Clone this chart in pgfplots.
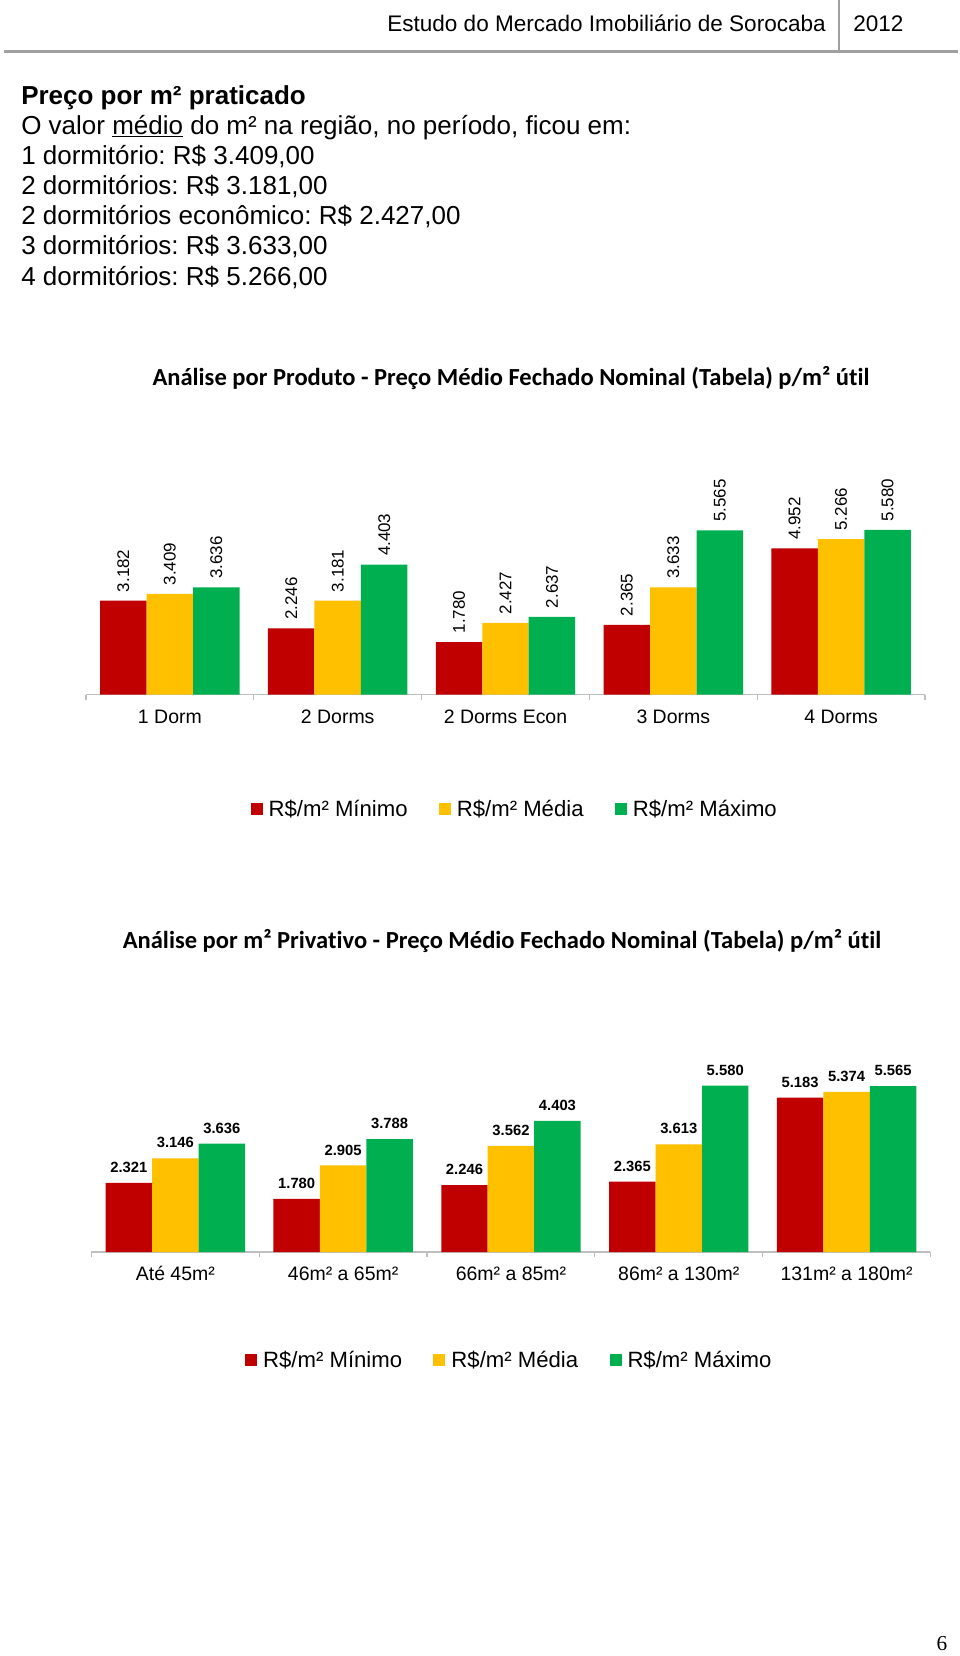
\documentclass[border=0pt]{standalone}
\usepackage{fontspec}
\setmainfont{Liberation Sans}
\newfontfamily\calibri[Ligatures=CommonOff]{Carlito}
\newfontfamily\timesf{Liberation Serif}
\usepackage{pgfplots}
\pgfplotsset{compat=1.18}
\definecolor{cRed}{HTML}{C00000}
\definecolor{cYel}{HTML}{FFC000}
\definecolor{cGrn}{HTML}{00B050}
\definecolor{axgray}{HTML}{BFBFBF}
\definecolor{hdrgray}{HTML}{A0A0A0}
\newcommand{\fs}[1]{\fontsize{#1pt}{#1pt}\selectfont}
\frenchspacing

\pgfplotstableread{
x  mn    md    mx
0  3182  3409  3636
1  2246  3181  4403
2  1780  2427  2637
3  2365  3633  5565
4  4952  5266  5580
}\produto
\pgfplotstableread{
x  mn    md    mx
0  2321  3146  3636
1  1780  2905  3788
2  2246  3562  4403
3  2365  3613  5580
4  5183  5374  5565
}\privativo

\pgfplotsset{
  chartbase/.style={
    scale only axis, width=629.25pt,
    ybar=0pt, bar width=0.277,
    ymin=0, ymax=8000,
    xmin=-0.5, xmax=4.5,
    axis x line*=bottom, axis y line=none,
    axis line style={draw=axgray, line width=0.9pt},
    xtick={0,1,2,3,4},
    major tick length=0pt,
    extra x ticks={-0.5,0.5,1.5,2.5,3.5,4.5},
    extra x tick labels={},
    extra x tick style={major tick length=4pt, tick align=outside, tick style={draw=axgray, line width=0.9pt}},
    xticklabel style={font=\fs{14.6}, anchor=base, yshift=-21.4pt},
    clip=false,
    /pgf/number format/assume math mode=true,
    /pgf/number format/1000 sep={.},
    nodes near coords,
    legend style={draw=none, fill=none, legend columns=3, font=\fs{16.6}, anchor=center,
      nodes={inner sep=1.5pt},
      /tikz/every odd column/.append style={column sep=3pt},
      /tikz/every even column/.append style={column sep=22pt}},
  },
  redsq/.style={fill=cRed, draw=none, bar shift=-0.277,
    legend image code/.code={\fill[cRed] (0pt,-4.5pt) rectangle (9pt,4.5pt);}},
  yelsq/.style={fill=cYel, draw=none, bar shift=0,
    legend image code/.code={\fill[cYel] (0pt,-4.5pt) rectangle (9pt,4.5pt);}},
  grnsq/.style={fill=cGrn, draw=none, bar shift=0.277,
    legend image code/.code={\fill[cGrn] (0pt,-4.5pt) rectangle (9pt,4.5pt);}},
}

\begin{document}
\begin{tikzpicture}
\begin{scope}[x=0.75pt,y=-0.75pt]
\useasboundingbox (0,0) rectangle (960,1656);
\fill[white] (0,0) rectangle (960,1656);
% header
\draw[hdrgray, line width=2.4pt] (4,51.5) -- (958,51.5);
\draw[hdrgray, line width=1.5pt] (839,0) -- (839,51.5);
\node[anchor=base east, inner sep=0, font=\fs{16.9}] at (826,31.2) {Estudo do Mercado Imobiliário de Sorocaba};
\node[anchor=base west, inner sep=0, font=\fs{16.9}] at (853,31.2) {2012};
% body text
\node[anchor=base west, inner sep=0, font=\bfseries\fs{19.5}] at (21,104.5) {Preço por m² praticado};
\node[anchor=base west, inner sep=0, font=\fs{19.5}] at (21,134) {O valor \underline{médio} do m² na região, no período, ficou em:};
\node[anchor=base west, inner sep=0, font=\fs{19.5}] at (21,164) {1 dormitório: R\$ 3.409,00};
\node[anchor=base west, inner sep=0, font=\fs{19.5}] at (21,194) {2 dormitórios: R\$ 3.181,00};
\node[anchor=base west, inner sep=0, font=\fs{19.5}] at (21,224) {2 dormitórios econômico: R\$ 2.427,00};
\node[anchor=base west, inner sep=0, font=\fs{19.5}] at (21,254.5) {3 dormitórios: R\$ 3.633,00};
\node[anchor=base west, inner sep=0, font=\fs{19.5}] at (21,285) {4 dormitórios: R\$ 5.266,00};
% chart titles
\node[anchor=base, inner sep=0, font=\calibri\bfseries\fs{18.4}] at (511,385.5) {Análise por Produto - Preço Médio Fechado Nominal (Tabela) p/m² útil};
\node[anchor=base, inner sep=0, font=\calibri\bfseries\fs{18.4}] at (502,948.5) {Análise por m² Privativo - Preço Médio Fechado Nominal (Tabela) p/m² útil};
% page number
\node[anchor=base, inner sep=0, font=\timesf\fs{16}] at (942,1650) {6};
\end{scope}

% Chart 1
\begin{axis}[chartbase, at={(64.5pt,-520.9pt)}, anchor=south west, height=177pt,
  xticklabels={1 Dorm, 2 Dorms, 2 Dorms Econ, 3 Dorms, 4 Dorms},
  every node near coord/.append style={rotate=90, anchor=west, inner xsep=6.3pt, font=\fs{12.7}, text=black},
  legend style={at={(0.511,-0.485)}},
]
\addplot[redsq] table[x=x,y=mn] {\produto};
\addplot[yelsq] table[x=x,y=md] {\produto};
\addplot[grnsq] table[x=x,y=mx] {\produto};
\addlegendentry{R\$/m² Mínimo}
\addlegendentry{R\$/m² Média}
\addlegendentry{R\$/m² Máximo}
\end{axis}

% Chart 2
\begin{axis}[chartbase, at={(68.6pt,-939pt)}, anchor=south west, height=178.8pt,
  xticklabels={Até 45m², 46m² a 65m², 66m² a 85m², 86m² a 130m², 131m² a 180m²},
  every node near coord/.append style={anchor=south, inner ysep=7.5pt, font=\bfseries\fs{11.1}, text=black},
  legend style={at={(0.498,-0.453)}},
]
\addplot[redsq] table[x=x,y=mn] {\privativo};
\addplot[yelsq] table[x=x,y=md] {\privativo};
\addplot[grnsq] table[x=x,y=mx] {\privativo};
\addlegendentry{R\$/m² Mínimo}
\addlegendentry{R\$/m² Média}
\addlegendentry{R\$/m² Máximo}
\end{axis}
\end{tikzpicture}
\end{document}
